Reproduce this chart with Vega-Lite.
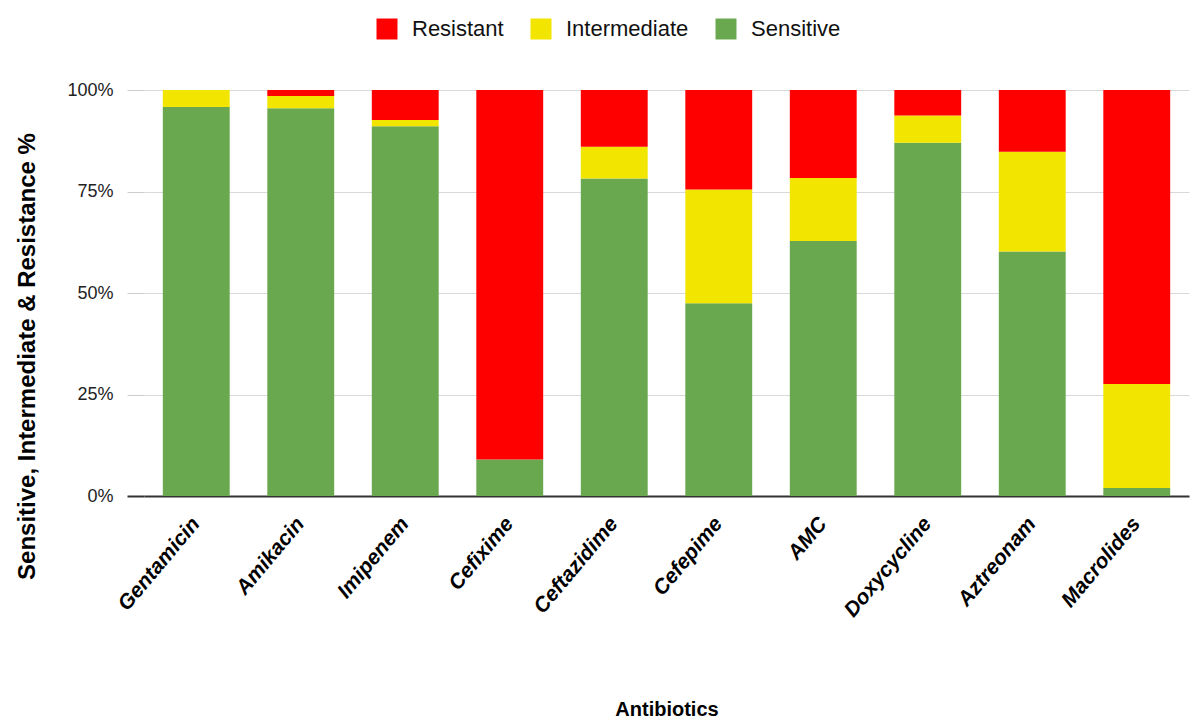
{
  "$schema": "https://vega.github.io/schema/vega-lite/v6.json",
  "width": 1045,
  "height": 406,
  "autosize": {"type": "none"},
  "padding": {"left": 144, "top": 90, "right": 5, "bottom": 225},
  "background": "white",
  "config": {"font": "Liberation Sans", "view": {"stroke": null}},
  "data": {
    "values": [
      {"antibiotic": "Gentamicin", "category": "Sensitive", "pct": 95.8},
      {"antibiotic": "Gentamicin", "category": "Intermediate", "pct": 4.2},
      {"antibiotic": "Gentamicin", "category": "Resistant", "pct": 0},
      {"antibiotic": "Amikacin", "category": "Sensitive", "pct": 95.5},
      {"antibiotic": "Amikacin", "category": "Intermediate", "pct": 3.0},
      {"antibiotic": "Amikacin", "category": "Resistant", "pct": 1.5},
      {"antibiotic": "Imipenem", "category": "Sensitive", "pct": 91.1},
      {"antibiotic": "Imipenem", "category": "Intermediate", "pct": 1.5},
      {"antibiotic": "Imipenem", "category": "Resistant", "pct": 7.4},
      {"antibiotic": "Cefixime", "category": "Sensitive", "pct": 9.0},
      {"antibiotic": "Cefixime", "category": "Intermediate", "pct": 0},
      {"antibiotic": "Cefixime", "category": "Resistant", "pct": 91.0},
      {"antibiotic": "Ceftazidime", "category": "Sensitive", "pct": 78.2},
      {"antibiotic": "Ceftazidime", "category": "Intermediate", "pct": 7.8},
      {"antibiotic": "Ceftazidime", "category": "Resistant", "pct": 14.0},
      {"antibiotic": "Cefepime", "category": "Sensitive", "pct": 47.5},
      {"antibiotic": "Cefepime", "category": "Intermediate", "pct": 28.0},
      {"antibiotic": "Cefepime", "category": "Resistant", "pct": 24.5},
      {"antibiotic": "AMC", "category": "Sensitive", "pct": 62.8},
      {"antibiotic": "AMC", "category": "Intermediate", "pct": 15.5},
      {"antibiotic": "AMC", "category": "Resistant", "pct": 21.7},
      {"antibiotic": "Doxycycline", "category": "Sensitive", "pct": 87.0},
      {"antibiotic": "Doxycycline", "category": "Intermediate", "pct": 6.7},
      {"antibiotic": "Doxycycline", "category": "Resistant", "pct": 6.3},
      {"antibiotic": "Aztreonam", "category": "Sensitive", "pct": 60.2},
      {"antibiotic": "Aztreonam", "category": "Intermediate", "pct": 24.6},
      {"antibiotic": "Aztreonam", "category": "Resistant", "pct": 15.2},
      {"antibiotic": "Macrolides", "category": "Sensitive", "pct": 2.0},
      {"antibiotic": "Macrolides", "category": "Intermediate", "pct": 25.6},
      {"antibiotic": "Macrolides", "category": "Resistant", "pct": 72.4}
    ]
  },
  "transform": [
    {"calculate": "datum.category === 'Sensitive' ? 0 : (datum.category === 'Intermediate' ? 1 : 2)", "as": "stackOrder"}
  ],
  "mark": {"type": "bar"},
  "encoding": {
    "x": {
      "field": "antibiotic",
      "type": "nominal",
      "sort": null,
      "scale": {"paddingInner": 0.36, "paddingOuter": 0.18},
      "axis": {
        "title": "Antibiotics",
        "titleFontSize": 20,
        "titleFontWeight": "bold",
        "titleColor": "#000",
        "titleY": 213,
        "titleBaseline": "middle",
        "labelAngle": -50,
        "labelAlign": "right",
        "labelBaseline": "middle",
        "labelFontSize": 21,
        "labelFontWeight": "bold",
        "labelFontStyle": "italic",
        "labelColor": "#000",
        "labelPadding": 24,
        "ticks": false,
        "domainColor": "#333",
        "domainWidth": 2
      }
    },
    "y": {
      "field": "pct",
      "type": "quantitative",
      "stack": "zero",
      "scale": {"domain": [0, 100]},
      "axis": {
        "title": "Sensitive, Intermediate & Resistance %",
        "titleFontSize": 24,
        "titleFontWeight": "bold",
        "titleColor": "#000",
        "titleAngle": -90,
        "titleX": -117,
        "titleY": 266,
        "titleAlign": "center",
        "titleBaseline": "middle",
        "values": [0, 25, 50, 75, 100],
        "labelExpr": "datum.value + '%'",
        "labelFontSize": 18,
        "labelColor": "#222",
        "labelPadding": 14,
        "tickSize": 17,
        "tickColor": {"condition": {"test": "datum.value === 0", "value": "#333"}, "value": "#cccccc"},
        "tickWidth": {"condition": {"test": "datum.value === 0", "value": 2}, "value": 1},
        "grid": true,
        "gridColor": "#d9d9d9",
        "domain": false
      }
    },
    "color": {
      "field": "category",
      "type": "nominal",
      "scale": {
        "domain": ["Resistant", "Intermediate", "Sensitive"],
        "range": ["#ff0000", "#f2e500", "#6aa84f"]
      },
      "legend": {
        "title": null,
        "orient": "none",
        "direction": "horizontal",
        "legendX": 232,
        "legendY": -72,
        "symbolType": "square",
        "symbolSize": 440,
        "symbolStrokeWidth": 0,
        "symbolOpacity": 1,
        "labelFontSize": 22,
        "labelColor": "#111",
        "labelOffset": 14,
        "columnPadding": 26,
        "padding": 0
      }
    },
    "order": {"field": "stackOrder", "type": "quantitative"}
  }
}
